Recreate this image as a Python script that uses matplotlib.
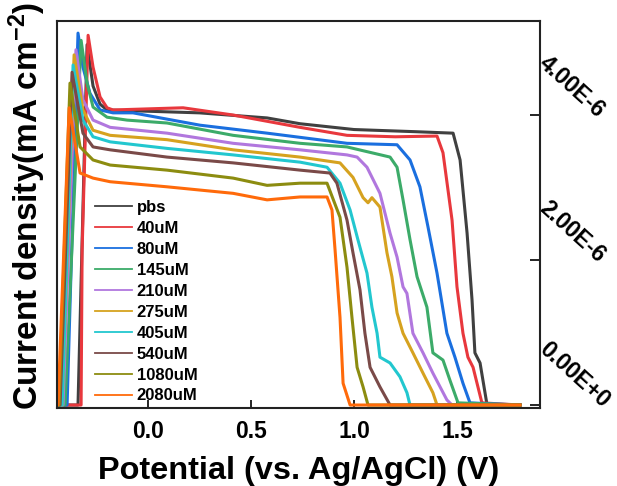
import matplotlib
matplotlib.use("Agg")
import matplotlib.pyplot as plt
from matplotlib.transforms import ScaledTranslation

plt.rcParams['font.family'] = ['Liberation Sans', 'DejaVu Sans']
plt.rcParams['font.weight'] = 'bold'
plt.rcParams['mathtext.fontset'] = 'custom'
plt.rcParams['mathtext.rm'] = 'Liberation Sans:bold'
plt.rcParams['mathtext.it'] = 'Liberation Sans:bold'
plt.rcParams['mathtext.bf'] = 'Liberation Sans:bold'
plt.rcParams['mathtext.default'] = 'rm'

labels = ["pbs", "40uM", "80uM", "145uM", "210uM", "275uM", "405uM", "540uM", "1080uM", "2080uM"]
colors = ["#404040", "#e8383d", "#1a6fdf", "#3cab69", "#b177de", "#d6a21f", "#22c7cf", "#7a4a48", "#8c8c10", "#ff6a0a"]

# Potential (V) and current density (x1E-6)
pbs_v = [-0.442, -0.340, -0.296, -0.267, -0.233, -0.199, 0.25, 0.578, 0.738, 1.0, 1.3, 1.481, 1.515, 1.549, 1.573, 1.587, 1.612, 1.646, 1.806]
pbs_i = [0.0, 0.0, 4.97, 4.40, 4.15, 4.07, 4.03, 3.96, 3.88, 3.80, 3.77, 3.75, 3.38, 2.37, 1.45, 0.72, 0.58, 0.0, 0.0]

c40_v = [-0.442, -0.325, -0.320, -0.291, -0.267, -0.233, -0.199, -0.170, 0.17, 0.413, 0.738, 0.966, 1.2, 1.403, 1.432, 1.476, 1.500, 1.529, 1.553, 1.578, 1.621, 1.806]
c40_i = [0.0, 0.0, 2.14, 5.10, 4.66, 4.25, 4.10, 4.07, 4.10, 4.00, 3.83, 3.72, 3.70, 3.71, 3.48, 2.55, 1.63, 0.99, 0.66, 0.52, 0.03, 0.0]

c80_v = [-0.442, -0.393, -0.340, -0.316, -0.282, -0.233, -0.170, -0.073, 0.252, 0.578, 0.966, 1.209, 1.272, 1.320, 1.359, 1.403, 1.451, 1.490, 1.529, 1.563, 1.806]
c80_i = [0.0, 0.0, 5.13, 4.66, 4.30, 4.07, 4.03, 4.03, 3.86, 3.75, 3.61, 3.59, 3.38, 3.01, 2.46, 1.82, 0.99, 0.66, 0.30, 0.03, 0.0]

c145_v = [-0.442, -0.403, -0.325, -0.296, -0.267, -0.199, -0.102, 0.092, 0.413, 0.738, 0.966, 1.175, 1.209, 1.238, 1.272, 1.306, 1.354, 1.383, 1.432, 1.466, 1.505, 1.806]
c145_i = [0.0, 0.0, 5.03, 4.44, 4.11, 3.97, 3.93, 3.89, 3.72, 3.61, 3.56, 3.42, 3.28, 2.83, 2.28, 1.77, 1.35, 0.72, 0.62, 0.34, 0.03, 0.0]

c210_v = [-0.442, -0.413, -0.350, -0.316, -0.267, -0.184, 0.092, 0.413, 0.738, 0.966, 1.015, 1.063, 1.126, 1.175, 1.209, 1.238, 1.257, 1.286, 1.335, 1.383, 1.451, 1.476, 1.806]
c210_i = [0.0, 0.0, 4.90, 4.21, 3.93, 3.83, 3.75, 3.61, 3.52, 3.45, 3.42, 3.28, 2.92, 2.37, 2.04, 1.63, 1.54, 0.99, 0.72, 0.44, 0.07, 0.0, 0.0]

c275_v = [-0.442, -0.417, -0.359, -0.316, -0.267, -0.184, 0.092, 0.413, 0.738, 0.932, 0.995, 1.044, 1.068, 1.087, 1.126, 1.160, 1.184, 1.209, 1.238, 1.286, 1.335, 1.383, 1.403, 1.806]
c275_i = [0.0, 0.0, 4.83, 4.07, 3.79, 3.72, 3.66, 3.52, 3.42, 3.34, 3.14, 2.86, 2.79, 2.86, 2.73, 2.10, 1.77, 1.27, 0.99, 0.72, 0.44, 0.17, 0.0, 0.0]

c405_v = [-0.442, -0.417, -0.364, -0.316, -0.267, -0.184, 0.092, 0.413, 0.738, 0.869, 0.932, 0.981, 1.019, 1.063, 1.087, 1.112, 1.126, 1.175, 1.223, 1.257, 1.272, 1.806]
c405_i = [0.0, 0.0, 4.69, 3.93, 3.70, 3.63, 3.54, 3.45, 3.35, 3.28, 3.06, 2.69, 2.28, 1.82, 1.35, 0.99, 0.66, 0.58, 0.39, 0.17, 0.0, 0.0]

c540_v = [-0.442, -0.427, -0.369, -0.316, -0.267, -0.184, 0.092, 0.413, 0.738, 0.883, 0.917, 0.966, 0.995, 1.029, 1.053, 1.078, 1.126, 1.175, 1.806]
c540_i = [0.0, 0.0, 4.59, 3.75, 3.56, 3.52, 3.42, 3.34, 3.24, 3.20, 3.06, 2.55, 2.10, 1.59, 0.99, 0.52, 0.25, 0.0, 0.0]

c1080_v = [-0.442, -0.432, -0.379, -0.330, -0.267, -0.184, 0.092, 0.413, 0.578, 0.738, 0.869, 0.932, 0.966, 0.990, 1.015, 1.044, 1.068, 1.806]
c1080_i = [0.0, 0.0, 4.44, 3.56, 3.38, 3.31, 3.24, 3.13, 3.03, 3.06, 3.06, 2.59, 1.90, 1.21, 0.52, 0.25, 0.0, 0.0]

c2080_v = [-0.442, -0.437, -0.383, -0.330, -0.267, -0.184, 0.092, 0.413, 0.578, 0.738, 0.869, 0.893, 0.908, 0.932, 0.947, 0.981, 1.806]
c2080_i = [0.0, 0.0, 4.10, 3.20, 3.13, 3.08, 3.01, 2.92, 2.83, 2.87, 2.87, 2.69, 2.14, 1.21, 0.30, 0.0, 0.0]

series_v = [pbs_v, c40_v, c80_v, c145_v, c210_v, c275_v, c405_v, c540_v, c1080_v, c2080_v]
series_i = [pbs_i, c40_i, c80_i, c145_i, c210_i, c275_i, c405_i, c540_i, c1080_i, c2080_i]

xticks = [0.0, 0.5, 1.0, 1.5]
xticklabels = ["0.0", "0.5", "1.0", "1.5"]
yticks = [0.0, 2.0, 4.0]
yticklabels = ["0.00E+0", "2.00E-6", "4.00E-6"]

fig = plt.figure(figsize=(6.17, 4.86), dpi=100)
ax = fig.add_axes([57/617, 1-408/486, 483/617, 387/486])

for v, i, lab, col in zip(series_v, series_i, labels, colors):
    ax.plot(v, i, color=col, lw=2.2, label=lab, solid_joinstyle='round')

ax.set_xlim(-0.442, 1.903)
ax.set_ylim(-0.041, 5.297)

ax.set_xticks(xticks)
ax.set_xticklabels(xticklabels, fontsize=16.5, fontweight='bold')
ax.yaxis.tick_right()
ax.set_yticks(yticks)
ax.set_yticklabels(yticklabels, fontsize=16.5, fontweight='bold', rotation=-42, va='bottom')
ax.tick_params(axis='x', direction='in', length=6, width=1.2, pad=9)
ax.tick_params(axis='y', direction='in', length=7, width=1.2, pad=-4)
shift = ScaledTranslation(0, -0.07, fig.dpi_scale_trans)
for lab in ax.get_yticklabels():
    lab.set_transform(lab.get_transform() + shift)

for s in ax.spines.values():
    s.set_linewidth(1.5)
    s.set_color('#222222')

ax.set_xlabel("Potential (vs. Ag/AgCl) (V)", fontsize=23.4, fontweight='bold', labelpad=9)
fig.text(0.044, 1-205.5/486, "Current density(mA cm$^{-2}$)", rotation=90, fontsize=24,
         fontweight='bold', ha='center', va='center')

leg = ax.legend(loc='upper left', bbox_to_anchor=(0.079, 0.537), frameon=False,
                prop={'weight': 'bold', 'size': 12}, handlelength=2.2, handletextpad=0.3,
                labelspacing=0.355, borderpad=0, borderaxespad=0)
for h in leg.get_lines():
    h.set_linewidth(1.3)

fig.savefig("out.png", dpi=100)
